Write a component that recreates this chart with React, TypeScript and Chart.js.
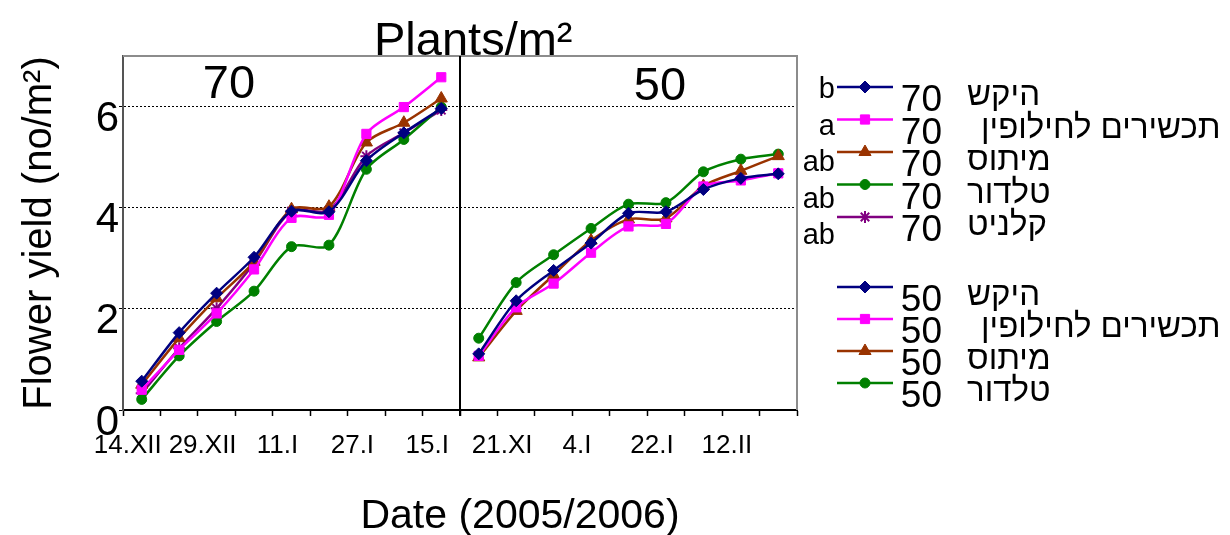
import React, { useEffect, useRef } from 'react';
import { Chart, registerables } from 'chart.js';
import { drawPoint } from 'chart.js/helpers';

Chart.register(...registerables);

const FONT = '"Liberation Sans", Arial, sans-serif';

// ---- data ----
const xLabels = ['14.XII', '', '29.XII', '', '11.I', '', '27.I', '', '15.I', '', '21.XI', '', '4.I', '', '22.I', '', '12.II', ''];
const yTickValues = [0, 2, 4, 6];

const names70 = ['היקש', 'תכשירים לחילופין', 'מיתוס', 'טלדור', 'קלניט'];
const names50 = ['היקש', 'תכשירים לחילופין', 'מיתוס', 'טלדור'];
const sigLetters70 = ['b', 'a', 'ab', 'ab', 'ab'];

const hikesh70 = [0.57, 1.53, 2.31, 3.02, 3.93, 3.92, 4.93, 5.48, 5.96];
const tachshirim70 = [0.40, 1.19, 1.91, 2.78, 3.80, 3.86, 5.46, 5.99, 6.58];
const mitos70 = [0.50, 1.42, 2.21, 2.93, 3.97, 4.02, 5.29, 5.68, 6.16];
const taldor70 = [0.21, 1.07, 1.75, 2.35, 3.23, 3.26, 4.76, 5.35, 5.99];
const klanit70 = [0.33, 1.22, 2.01, 2.90, 3.93, 3.95, 5.02, 5.48, 5.93];

const hikesh50 = [1.11, 2.16, 2.76, 3.30, 3.89, 3.92, 4.36, 4.58, 4.67];
const tachshirim50 = [1.07, 2.03, 2.50, 3.11, 3.63, 3.68, 4.42, 4.54, 4.68];
const mitos50 = [1.04, 1.96, 2.67, 3.35, 3.77, 3.79, 4.43, 4.73, 5.02];
const taldor50 = [1.42, 2.52, 3.07, 3.59, 4.07, 4.10, 4.71, 4.96, 5.06];

// ---- styles ----
const COLORS = ['#000080', '#FF00FF', '#993300', '#008000', '#800080'];
const STYLES = ['rectRot', 'rect', 'triangle', 'circle', 'star'];
const RADII = [6, 6.5, 7, 5, 6];

const gap = (n: number) => Array(n).fill(null);

function makeDataset(label: string, group: string, values: number[], idx: number, first: boolean) {
  return {
    label: `${group} ${label}`,
    group,
    hebrew: label,
    data: first ? [...values, ...gap(9)] : [...gap(9), ...values],
    borderColor: COLORS[idx],
    backgroundColor: COLORS[idx],
    pointBackgroundColor: COLORS[idx],
    pointBorderColor: COLORS[idx],
    pointStyle: STYLES[idx],
    pointRadius: RADII[idx],
    pointBorderWidth: STYLES[idx] === 'star' ? 2 : 1,
    borderWidth: 2.5,
    tension: 0.3,
    spanGaps: false,
  };
}

const values70 = [hikesh70, tachshirim70, mitos70, taldor70, klanit70];
const values50 = [hikesh50, tachshirim50, mitos50, taldor50];

const decorPlugin = {
  id: 'decor',
  afterDraw(chart: any) {
    const { ctx, chartArea: a } = chart;
    const x = chart.scales.x;
    ctx.save();
    // frame (top + right)
    ctx.strokeStyle = '#8c8c8c';
    ctx.lineWidth = 2;
    ctx.beginPath();
    ctx.moveTo(a.left, a.top);
    ctx.lineTo(a.right, a.top);
    ctx.lineTo(a.right, a.bottom);
    ctx.stroke();
    // panel divider
    const xd = (x.getPixelForValue(8) + x.getPixelForValue(9)) / 2;
    ctx.strokeStyle = '#000';
    ctx.beginPath();
    ctx.moveTo(xd, a.top);
    ctx.lineTo(xd, a.bottom + 6);
    ctx.stroke();

    ctx.fillStyle = '#000';
    ctx.textBaseline = 'alphabetic';
    // title
    ctx.font = `47px ${FONT}`;
    ctx.textAlign = 'left';
    ctx.fillText('Plants/m²', 374, 55);
    // x title
    ctx.font = `41px ${FONT}`;
    ctx.textAlign = 'center';
    ctx.fillText('Date (2005/2006)', 520, 528);
    // panel labels
    ctx.font = `47px ${FONT}`;
    ctx.fillText('70', 229, 98);
    ctx.fillText('50', 660, 100);

    // legend
    const drawItem = (ds: any, lineY: number, num: string) => {
      ctx.strokeStyle = ds.borderColor;
      ctx.fillStyle = ds.borderColor;
      ctx.lineWidth = 2.5;
      ctx.beginPath();
      ctx.moveTo(837, lineY);
      ctx.lineTo(893, lineY);
      ctx.stroke();
      ctx.lineWidth = ds.pointBorderWidth;
      drawPoint(ctx, { pointStyle: ds.pointStyle, radius: ds.pointRadius, borderWidth: ds.pointBorderWidth, rotation: 0 }, 865, lineY);
      ctx.fillStyle = '#000';
      ctx.font = `37px ${FONT}`;
      ctx.textAlign = 'right';
      ctx.fillText(num, 942, lineY + 24);
      ctx.font = `33px ${FONT}`;
      ctx.textAlign = 'left';
      const indent = ds.hebrew.includes(' ') ? 14 : 0;
      ctx.fillText(ds.hebrew, 967 + indent, lineY + 18);
    };
    const dss = chart.data.datasets;
    let i70 = 0;
    let i50 = 0;
    dss.forEach((ds: any) => {
      if (ds.group === '70') {
        const lineY = 87 + 32.5 * i70;
        drawItem(ds, lineY, ds.group);
        ctx.font = `29px ${FONT}`;
        ctx.textAlign = 'right';
        ctx.fillStyle = '#000';
        ctx.fillText(sigLetters70[i70], 835, lineY + 11 + 4 * i70);
        i70++;
      } else {
        const lineY = 287 + 32 * i50;
        drawItem(ds, lineY, ds.group);
        i50++;
      }
    });
    ctx.restore();
  },
};

export default function App() {
  const ref = useRef<HTMLCanvasElement>(null);
  useEffect(() => {
    if (!ref.current) return;
    Chart.defaults.font.family = FONT;
    Chart.defaults.color = '#000';
    const datasets = [
      ...names70.map((n, i) => makeDataset(n, '70', values70[i], i, true)),
      ...names50.map((n, i) => makeDataset(n, '50', values50[i], i, false)),
    ];
    const chart = new Chart(ref.current, {
      type: 'line',
      data: { labels: xLabels, datasets: datasets as any },
      options: {
        responsive: false,
        animation: false,
        layout: { padding: { top: 56, right: 433, left: 0, bottom: 0 } },
        plugins: { legend: { display: false }, tooltip: { enabled: false }, title: { display: false } },
        scales: {
          x: {
            type: 'category',
            offset: true,
            grid: { offset: true, drawOnChartArea: false, drawTicks: true, tickLength: 6, tickColor: '#000', tickWidth: 1.5 },
            border: { color: '#000', width: 2 },
            ticks: { autoSkip: false, maxRotation: 0, minRotation: 0, font: { size: 26 }, color: '#000', labelOffset: -14, padding: 14 },
            afterFit: (s: any) => { s.height = 125; },
          },
          y: {
            type: 'linear',
            min: 0,
            max: 7,
            afterBuildTicks: (s: any) => { s.ticks = yTickValues.map((v) => ({ value: v })); },
            grid: {
              color: (c: any) => (c.tick && c.tick.value === 0 ? 'rgba(0,0,0,0)' : '#000'),
              lineWidth: 1,
              drawTicks: true,
              tickLength: 4,
              tickColor: '#000',
            },
            border: { color: '#555', width: 2, dash: [2, 2] },
            ticks: { font: { size: 42 }, color: '#000', padding: 0, labelOffset: 13 },
            title: { display: true, text: 'Flower yield (no/m²)', font: { size: 40 }, color: '#000', padding: { top: 16, bottom: 0 } },
            afterFit: (s: any) => { s.width = 123; },
          },
        },
      },
      plugins: [decorPlugin],
    });
    return () => chart.destroy();
  }, []);
  return (
    <div style={{ position: 'absolute', left: 0, top: 0, width: 1230, height: 535, background: '#fff' }}>
      <canvas ref={ref} width={1230} height={535} />
    </div>
  );
}
